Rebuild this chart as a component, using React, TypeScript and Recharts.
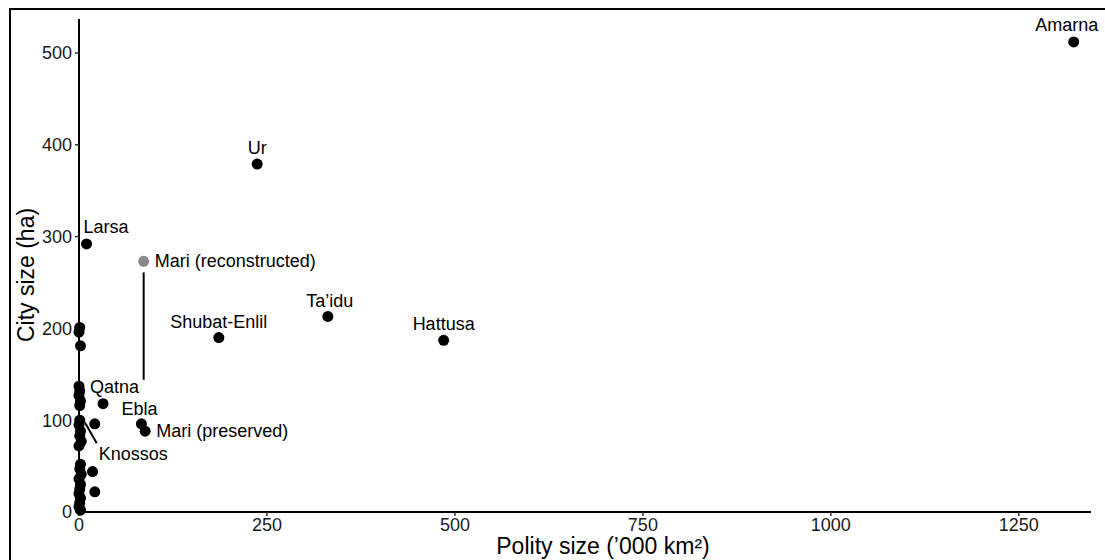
import { ScatterChart, Scatter, XAxis, YAxis, ReferenceLine } from "recharts";

// labelled cities
const cityNames = ["Amarna", "Ur", "Larsa", "Shubat-Enlil", "Ta\u2019idu", "Hattusa", "Qatna", "Ebla", "Mari (preserved)", "Knossos"];
const cityPolity = [1323, 237, 10, 186, 331, 485, 32, 83, 88, 1];
const cityArea = [512, 379, 292, 190, 213, 187, 118, 96, 88, 100];

// reconstructed Mari (grey) and its range line
const reconName = ["Mari (reconstructed)"];
const reconPolity = [86];
const reconArea = [273];
const mariRange = [144, 261];

// unlabelled cities
const otherPolity = [21, 18, 21, 1, 0, 2, 0, 1, 0, 2, 1, 0, 2, 1, 3, 0, 2, 1, 3, 0, 2, 1, 0, 2, 1, 0, 2];
const otherArea = [96, 44, 22, 201, 196, 181, 137, 132, 127, 121, 116, 95, 88, 83, 77, 72, 52, 47, 41, 36, 30, 25, 20, 15, 10, 6, 2];

const xTicks = [0, 250, 500, 750, 1000, 1250];
const yTicks = [0, 100, 200, 300, 400, 500];

const named = cityNames.map((name, i) => ({ name, x: cityPolity[i], y: cityArea[i] }));
const recon = reconName.map((name, i) => ({ name, x: reconPolity[i], y: reconArea[i] }));
const others = otherPolity.map((x, i) => ({ x, y: otherArea[i] }));

const FONT = "'Liberation Sans', Arial, sans-serif";

// where each label sits relative to its dot
const labelPos: Record<string, { dx: number; dy: number; anchor: "start" | "middle" | "end" }> = {
  Amarna: { dx: -7, dy: -11, anchor: "middle" },
  Ur: { dx: 0, dy: -10, anchor: "middle" },
  Larsa: { dx: -3, dy: -11, anchor: "start" },
  "Shubat-Enlil": { dx: 0, dy: -10, anchor: "middle" },
  "Ta\u2019idu": { dx: 2, dy: -9, anchor: "middle" },
  Hattusa: { dx: 0, dy: -10, anchor: "middle" },
  Qatna: { dx: -13, dy: -11, anchor: "start" },
  Ebla: { dx: -2, dy: -9, anchor: "middle" },
  "Mari (preserved)": { dx: 11, dy: 6, anchor: "start" },
  Knossos: { dx: 19, dy: 40, anchor: "start" },
  "Mari (reconstructed)": { dx: 11, dy: 6, anchor: "start" },
};

function Dot(props: any) {
  return <circle cx={props.cx} cy={props.cy} r={5.5} fill={props.fill || "#000"} />;
}

function labelledDot(color: string) {
  return (props: any) => {
    const { cx, cy, payload } = props;
    const p = labelPos[payload.name];
    return (
      <g>
        <circle cx={cx} cy={cy} r={5.5} fill={color} />
        {payload.name === "Knossos" && (
          <line x1={cx + 5} y1={cy + 2} x2={cx + 17} y2={cy + 23} stroke="#000" strokeWidth={2} />
        )}
        <text x={cx + p.dx} y={cy + p.dy} textAnchor={p.anchor} fontSize={18} fontFamily={FONT} fill="#000">
          {payload.name}
        </text>
      </g>
    );
  };
}

function YTitle() {
  return (
    <text transform="translate(34,275) rotate(-90)" textAnchor="middle" fontSize={23} fontFamily={FONT} fill="#000">
      City size (ha)
    </text>
  );
}

export default function App() {
  return (
    <div style={{ position: "fixed", left: 0, top: 0, width: 1105, height: 560, overflow: "hidden", background: "#fff" }}>
      <div
        style={{
          position: "absolute",
          left: 9,
          top: 8,
          width: 1200,
          height: 700,
          border: "2px solid #000",
          boxSizing: "border-box",
        }}
      />
      <div style={{ position: "absolute", left: 0, top: 0 }}>
        <ScatterChart width={1105} height={560} margin={{ top: 19, right: 14, left: 19, bottom: 18 }}>
          <XAxis
            type="number"
            dataKey="x"
            domain={[0, 1346]}
            ticks={xTicks}
            height={30}
            tickSize={4}
            tickMargin={2}
            axisLine={{ stroke: "#000", strokeWidth: 2 }}
            tickLine={{ stroke: "#333", strokeWidth: 1.5 }}
            tick={{ fontSize: 18, fontFamily: FONT, fill: "#1a1a1a" }}
            label={{
              value: "Polity size (\u2019000 km\u00b2)",
              position: "insideBottom",
              offset: -12,
              dx: 18,
              style: { fontSize: 23, fontFamily: FONT, fill: "#000" },
            }}
          />
          <YAxis
            type="number"
            dataKey="y"
            domain={[0, 537]}
            ticks={yTicks}
            width={60}
            tickSize={4}
            tickMargin={3}
            axisLine={{ stroke: "#000", strokeWidth: 2 }}
            tickLine={{ stroke: "#333", strokeWidth: 1.5 }}
            tick={{ fontSize: 18, fontFamily: FONT, fill: "#1a1a1a" }}
            label={{ content: YTitle }}
          />
          <ReferenceLine
            segment={[
              { x: reconPolity[0], y: mariRange[0] },
              { x: reconPolity[0], y: mariRange[1] },
            ]}
            stroke="#000"
            strokeWidth={2}
          />
          <Scatter data={others} fill="#000" shape={Dot} isAnimationActive={false} />
          <Scatter data={recon} fill="#888" shape={labelledDot("#888")} isAnimationActive={false} />
          <Scatter data={named} fill="#000" shape={labelledDot("#000")} isAnimationActive={false} />
        </ScatterChart>
      </div>
    </div>
  );
}
